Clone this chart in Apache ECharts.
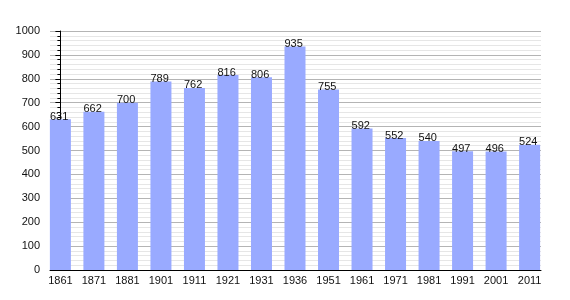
<!DOCTYPE html>
<html><head><meta charset="utf-8">
<script src="https://cdn.jsdelivr.net/npm/echarts@6/dist/echarts.min.js"></script>
<style>html,body{margin:0;padding:0;background:#fff}#c{width:570px;height:300px}</style>
</head><body><div id="c"></div>
<script>
const years = ['1861','1871','1881','1901','1911','1921','1931','1936','1951','1961','1971','1981','1991','2001','2011'];
const population = [631,662,700,789,762,816,806,935,755,592,552,540,497,496,524];
const yTicks = [0,100,200,300,400,500,600,700,800,900,1000];

const chart = echarts.init(document.getElementById('c'), null, {renderer:'canvas'});
const idx = years.map((_, i) => i);
chart.setOption({
  animation: false,
  grid: {left: 50, top: 31, width: 491, height: 239},
  xAxis: {
    type: 'value', min: -0.31, max: 14.34,
    axisLine: {show: true, onZero: false, lineStyle: {color: '#000', width: 1}},
    axisTick: {show: false},
    splitLine: {show: false},
    axisLabel: {
      customValues: idx,
      formatter: v => years[Math.round(v)] || '',
      color: '#111', fontSize: 11, fontFamily: 'Liberation Sans, Arial', margin: 5
    }
  },
  yAxis: {
    type: 'value', min: yTicks[0], max: yTicks[yTicks.length-1], interval: 100,
    axisLine: {show: true, lineStyle: {color: '#000', width: 1}},
    axisTick: {show: true, length: 5, lineStyle: {color: '#000'}},
    minorTick: {show: true, splitNumber: 5, length: 3, lineStyle: {color: '#000'}},
    splitLine: {show: true, lineStyle: {color: '#b4b4b4', width: 1}},
    minorSplitLine: {show: true, lineStyle: {color: '#e6e6e6', width: 1}},
    axisLabel: {color: '#111', fontSize: 11, fontFamily: 'Liberation Sans, Arial', margin: 10,
      formatter: v => String(v)}
  },
  series: [{
    type: 'bar',
    data: population.map((v, i) => [i, v]),
    barWidth: 21,
    itemStyle: {color: '#99aaff'},
    label: {
      show: true, position: [0, -8], formatter: p => String(p.value[1]),
      color: '#111', fontSize: 11, fontFamily: 'Liberation Sans, Arial'
    }
  }]
});
</script></body></html>
